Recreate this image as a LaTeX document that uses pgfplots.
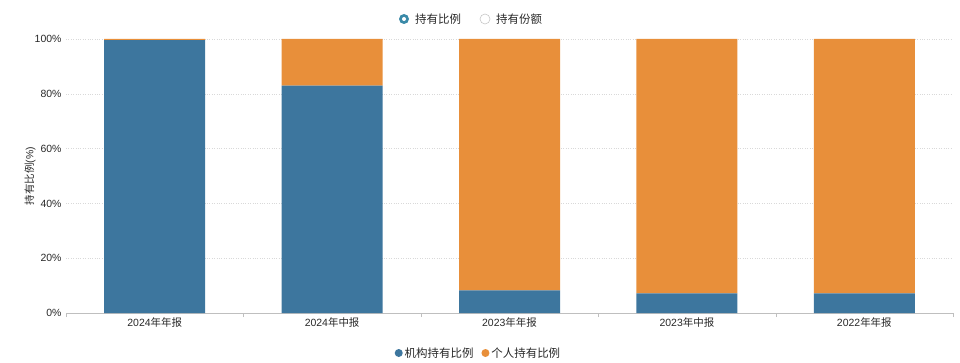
\documentclass[border=0pt]{standalone}
\usepackage{fontspec}
\setmainfont{Liberation Sans}
\newfontfamily\cjk{Noto Sans CJK SC}
\usepackage{pgfplots}
\pgfplotsset{compat=1.18}
\definecolor{cblue}{RGB}{61,118,158}
\definecolor{corange}{RGB}{232,143,58}
\definecolor{radio}{RGB}{58,138,168}
\definecolor{txt}{RGB}{40,40,40}

\begin{document}
\begin{tikzpicture}[x=1bp,y=1bp]
\path[use as bounding box] (0,0) rectangle (960,362);
\begin{axis}[
  at={(66bp,49bp)}, anchor=south west,
  scale only axis, width=887bp, height=274bp,
  ybar stacked, bar width=101bp,
  xmin=-0.5, xmax=4.5, ymin=0, ymax=100,
  axis x line*=bottom, axis y line*=left,
  x axis line style={-,draw=gray!50},
  y axis line style={draw=none},
  xtick={0,1,2,3,4},
  xticklabels={2024{\cjk 年年报},2024{\cjk 年中报},2023{\cjk 年年报},2023{\cjk 年中报},2022{\cjk 年年报}},
  major x tick style={draw=none},
  minor xtick={-0.5,0.5,1.5,2.5,3.5,4.5},
  minor x tick style={draw=gray!50},
  minor tick length=4bp, major tick length=0bp,
  tick align=outside,
  ytick={0,20,40,60,80,100},
  yticklabels={0\%,20\%,40\%,60\%,80\%,100\%},
  major y tick style={draw=none},
  ymajorgrids, grid style={dotted, draw=gray!30},
  tick label style={font=\fontsize{10.5}{12}\selectfont, text=txt},
  xticklabel style={yshift=-1bp},
  yticklabel style={xshift=-1bp},
  ylabel={{\cjk 持有比例}(\%)},
  ylabel style={at={(axis description cs:-0.0406,0.5)}, anchor=center, font=\fontsize{10.5}{12}\selectfont, text=txt},
  legend style={at={(axis description cs:0.465,-0.146)}, anchor=center, draw=none,
    font=\cjk\fontsize{11.5}{14}\selectfont, text=txt,
    /tikz/every even column/.style={column sep=6bp}},
  legend columns=2,
  legend image code/.code={\fill[#1] (3bp,0bp) circle (4bp);},
]
\addplot[fill=cblue, draw=none] coordinates {(0,99.6) (1,83.0) (2,8.3) (3,7.2) (4,7.2)};
\addplot[fill=corange, draw=none] coordinates {(0,0.4) (1,17.0) (2,91.7) (3,92.8) (4,92.8)};
\legend{机构持有比例,个人持有比例}
\end{axis}
% top selector (radio buttons)
\fill[radio] (404,343) circle (5);
\fill[white] (404,343) circle (2);
\draw[gray!45, line width=0.6] (485,343) circle (5);
\node[anchor=west, inner sep=0, font=\cjk\fontsize{11.5}{14}\selectfont, text=txt] at (415,343) {持有比例};
\node[anchor=west, inner sep=0, font=\cjk\fontsize{11.5}{14}\selectfont, text=txt] at (496,343) {持有份额};
\end{tikzpicture}
\end{document}
